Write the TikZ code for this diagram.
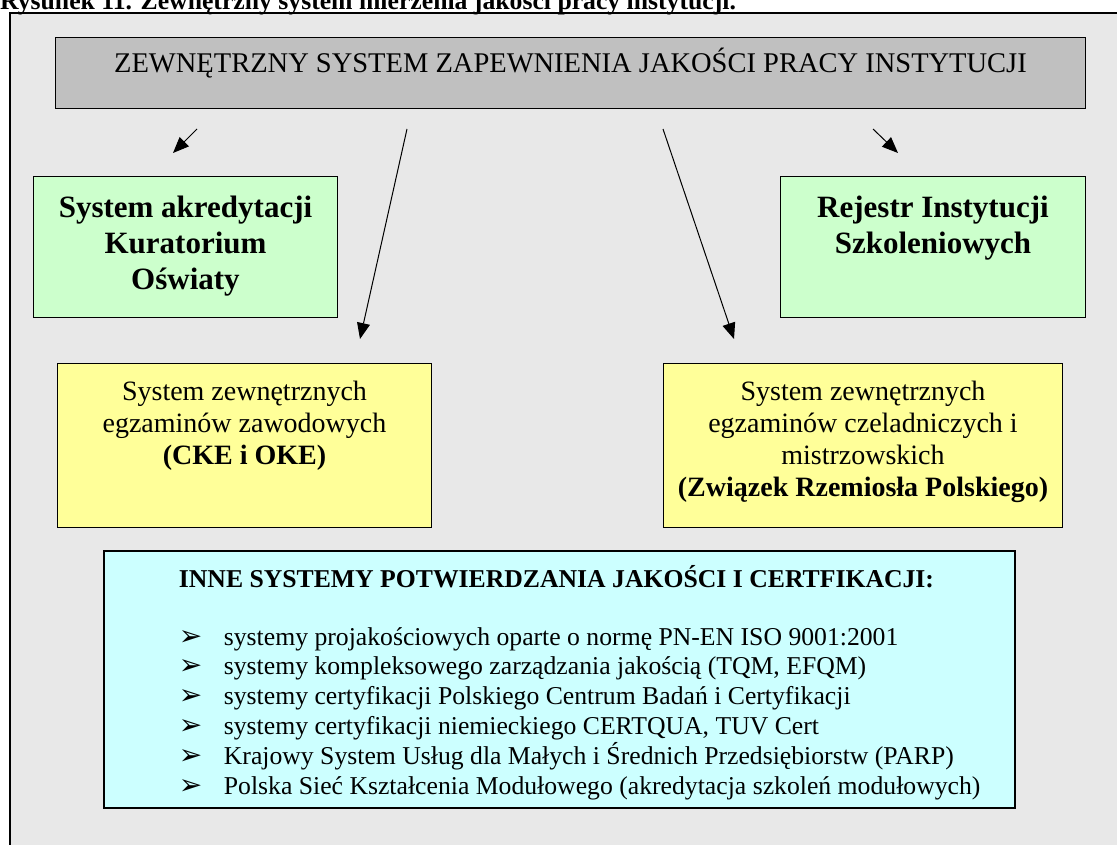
\documentclass[tikz,border=0pt]{standalone}
\usepackage{fontspec}
\setmainfont{Liberation Serif}
\newfontfamily\dingfont{DejaVu Sans}
\usetikzlibrary{arrows.meta}

\definecolor{framegray}{HTML}{E8E8E8}
\definecolor{titlegray}{HTML}{C0C0C0}
\definecolor{akrgreen}{HTML}{CCFFCC}
\definecolor{egzyellow}{HTML}{FFFF99}
\definecolor{innecyan}{HTML}{CCFFFF}

\begin{document}
\begin{tikzpicture}[x=1pt, y=-1pt,
    box/.style={draw, line width=1pt, inner sep=0pt, anchor=north west},
    arr/.style={line width=1pt, -{Triangle[length=16pt, width=13pt]}}]
  \useasboundingbox (0,0) rectangle (1117,845);
  % tlo i podpis
  \draw[fill=framegray, line width=1.2pt] (10,13) rectangle (1140,870);
  \node[anchor=base west, inner sep=0pt, font=\bfseries\fontsize{25.7}{30}\selectfont] (podpis) at (0,9.5)
    {Rysunek 11. Zewnętrzny system mierzenia jakości pracy instytucji.};
  % ramki
  \node[box, fill=titlegray, minimum width=1030, minimum height=71] (system) at (55,37)
    {\parbox[t][71pt][t]{1030pt}{\centering\fontsize{28.5}{33}\selectfont
     \vspace*{11pt}\strut ZEWNĘTRZNY SYSTEM ZAPEWNIENIA JAKOŚCI PRACY INSTYTUCJI}};
  \node[box, fill=akrgreen, minimum width=304, minimum height=141] (akr) at (33,176)
    {\parbox[t][141pt][t]{304pt}{\centering\bfseries\fontsize{31}{36}\selectfont
     \vspace*{15.8pt}\strut System akredytacji\\ Kuratorium\\ Oświaty}};
  \node[box, fill=akrgreen, minimum width=305, minimum height=141] (rejestr) at (780,176)
    {\parbox[t][141pt][t]{305pt}{\centering\bfseries\fontsize{31}{36}\selectfont
     \vspace*{15.8pt}\strut Rejestr Instytucji\\ Szkoleniowych}};
  \node[box, fill=egzyellow, minimum width=374, minimum height=164] (egzzaw) at (57,363)
    {\parbox[t][164pt][t]{374pt}{\centering\fontsize{28}{32}\selectfont
     \vspace*{14.6pt}\strut System zewnętrznych\\ egzaminów zawodowych\\ \textbf{(CKE i OKE)}}};
  \node[box, fill=egzyellow, minimum width=399, minimum height=164] (egzczel) at (663,363)
    {\parbox[t][164pt][t]{399pt}{\centering\fontsize{28}{32}\selectfont
     \vspace*{14.6pt}\strut System zewnętrznych\\ egzaminów czeladniczych i\\ mistrzowskich\\
     \textbf{(Związek Rzemiosła Polskiego)}}};
  \node[box, fill=innecyan, line width=1.8pt, minimum width=911, minimum height=257] (inne) at (103,550)
    {\parbox[t][257pt][t]{911pt}{\raggedright\leftskip=75pt\fontsize{25.7}{29.8}\selectfont
     \vspace*{14.1pt}\strut\textbf{INNE SYSTEMY POTWIERDZANIA JAKOŚCI I CERTFIKACJI:}\par
     \vspace{28.2pt}
     \makebox[45pt][l]{\dingfont\fontsize{28}{28}\selectfont ➢}systemy projakościowych oparte o normę PN-EN ISO 9001:2001\\
     \makebox[45pt][l]{\dingfont\fontsize{28}{28}\selectfont ➢}systemy kompleksowego zarządzania jakością (TQM, EFQM)\\
     \makebox[45pt][l]{\dingfont\fontsize{28}{28}\selectfont ➢}systemy certyfikacji Polskiego Centrum Badań i Certyfikacji\\
     \makebox[45pt][l]{\dingfont\fontsize{28}{28}\selectfont ➢}systemy certyfikacji niemieckiego CERTQUA, TUV Cert\\
     \makebox[45pt][l]{\dingfont\fontsize{28}{28}\selectfont ➢}Krajowy System Usług dla Małych i Średnich Przedsiębiorstw (PARP)\\
     \makebox[45pt][l]{\dingfont\fontsize{28}{28}\selectfont ➢}Polska Sieć Kształcenia Modułowego (akredytacja szkoleń modułowych)}};
  % strzalki
  \coordinate (a1) at (197,129); \coordinate (b1) at (173,153);
  \coordinate (a2) at (407,129); \coordinate (b2) at (360,339);
  \coordinate (a3) at (663,129); \coordinate (b3) at (734,339);
  \coordinate (a4) at (873,129); \coordinate (b4) at (898,153);
  \foreach \i in {1,...,4} \draw[arr] (a\i) -- (b\i);
\end{tikzpicture}
\end{document}
